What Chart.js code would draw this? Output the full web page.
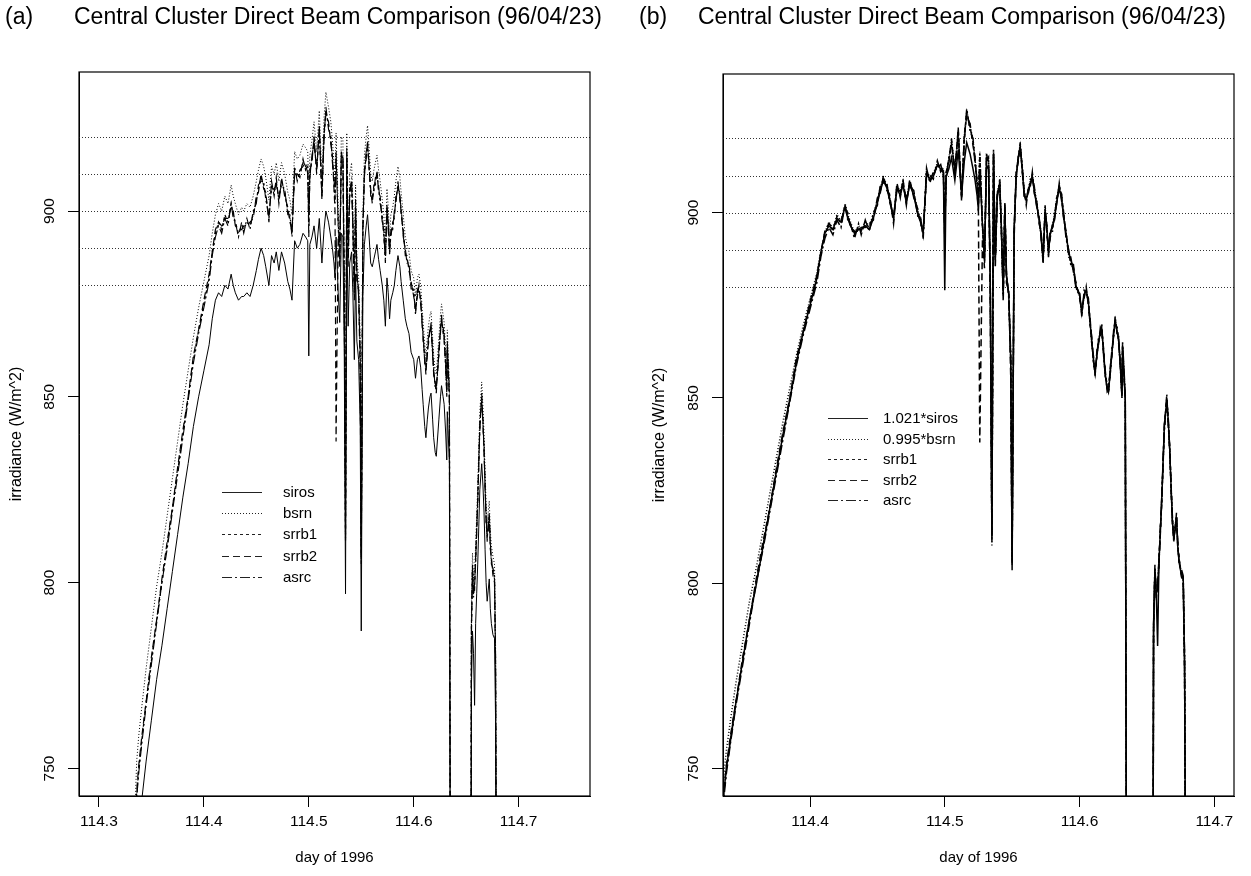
<!DOCTYPE html>
<html lang="en">
<head>
    <meta charset="UTF-8">
    <title>Central Cluster Direct Beam Comparison (96/04/23)</title>
    <script src="https://cdn.jsdelivr.net/npm/chart.js"></script>
    <style>
        body { margin: 0; background: #fff; }
        .wrap { position: relative; width: 1251px; height: 876px; font-family: 'Liberation Sans', Arial, sans-serif; }
        .wrap canvas { position: absolute; top: 0; }
        .ttl { position: absolute; top: 3px; font-size: 23px; line-height: 26px; color: #000; white-space: nowrap; }
    </style>
</head>
<body>
    <div class="wrap">
        <canvas id="panelA" width="625" height="876" style="left:0"></canvas>
        <canvas id="panelB" width="626" height="876" style="left:625px"></canvas>
        <div class="ttl" style="left:5px">(a)</div>
        <div class="ttl" style="left:74px">Central Cluster Direct Beam Comparison (96/04/23)</div>
        <div class="ttl" style="left:639px">(b)</div>
        <div class="ttl" style="left:698px">Central Cluster Direct Beam Comparison (96/04/23)</div>
    </div>

    <script>
        // time base (day of 1996), shared by all instruments
        const day = [
            114.330, 114.336, 114.338, 114.341, 114.345, 114.350, 114.355, 114.360, 114.365, 114.370,
            114.375, 114.380, 114.385, 114.390, 114.395, 114.400, 114.405, 114.408, 114.411, 114.414,
            114.417, 114.420, 114.423, 114.426, 114.428, 114.430, 114.433, 114.436, 114.438, 114.441,
            114.444, 114.447, 114.450, 114.452, 114.4545, 114.457, 114.459, 114.462, 114.4645, 114.467,
            114.469, 114.4715, 114.474, 114.477, 114.480, 114.482, 114.484, 114.4865, 114.489, 114.4915,
            114.4945, 114.497, 114.499, 114.500, 114.501, 114.503, 114.505, 114.5075, 114.510, 114.5125,
            114.5145, 114.5163, 114.5188, 114.521, 114.5225, 114.524, 114.525, 114.526, 114.528, 114.5295,
            114.531, 114.5325, 114.5338, 114.535, 114.5362, 114.5375, 114.539, 114.5408, 114.542, 114.5434,
            114.5446, 114.5458, 114.5475, 114.549, 114.550, 114.5515, 114.553, 114.5547, 114.556, 114.5575,
            114.559, 114.5605, 114.562, 114.5635, 114.565, 114.5665, 114.568, 114.570, 114.5715, 114.573,
            114.5745, 114.5757, 114.577, 114.5782, 114.580, 114.5815, 114.583, 114.585, 114.5868, 114.588,
            114.590, 114.592, 114.5935, 114.5955, 114.5975, 114.600, 114.6017, 114.6035, 114.605, 114.6066,
            114.608, 114.609, 114.6105, 114.6116, 114.613, 114.614, 114.6155, 114.6165, 114.618, 114.619,
            114.6205, 114.6215, 114.623, 114.624, 114.6255, 114.6265, 114.628, 114.629, 114.6305, 114.6315,
            114.632, 114.634, 114.635, 114.6545, 114.655, 114.656, 114.657, 114.658, 114.659, 114.660,
            114.661, 114.662, 114.663, 114.6648, 114.666, 114.667, 114.668, 114.669, 114.670, 114.671,
            114.672, 114.673, 114.674, 114.6755, 114.677, 114.678, 114.679, 114.690
        ];

        // irradiance (W/m^2) per instrument
        const siros = [
            686, 728, 735, 742, 752, 763, 774, 783, 793, 803,
            813, 823, 832, 842, 850, 857, 864, 871, 876, 878,
            877, 880, 879, 883, 880, 878, 876, 877, 877, 878,
            877, 880, 884, 887, 890, 888, 885, 880, 888, 886,
            889, 884, 889, 886, 881, 879, 876, 892, 890, 891,
            894, 893, 892, 861, 891, 893, 896, 890, 898, 886,
            895, 900, 897, 893, 890, 886, 882, 893, 878, 870,
            894, 893, 862, 797, 897, 869, 886, 889, 878, 860,
            883, 865, 860, 842, 787, 877, 891, 896, 899, 893,
            886, 885, 887, 889, 891, 887, 884, 880, 876, 869,
            882, 878, 871, 876, 878, 880, 884, 888, 885, 881,
            876, 871, 869, 867, 862, 860, 855, 860, 861, 858,
            852, 848, 842, 839, 844, 847, 850, 851, 844, 839,
            835, 834, 840, 844, 850, 853, 850, 848, 840, 833,
            846, 832, 686, 686, 772, 787, 781, 767, 789, 797,
            805, 815, 825, 832, 826, 819, 809, 800, 795, 798,
            801, 793, 789, 786, 785, 763, 686, 686
        ];
        const bsrn = [
            705, 752, 759, 767, 777, 788, 799, 808, 818, 828,
            838, 848, 857, 866, 874, 881, 888, 894, 899, 902,
            900, 904, 902, 907, 904, 902, 899, 901, 900, 902,
            901, 904, 908, 911, 914, 912, 909, 903, 912, 910,
            913, 908, 913, 910, 905, 903, 899, 916, 914, 915,
            918, 917, 916, 901, 915, 919, 924, 916, 927, 909,
            925, 932, 928, 924, 919, 913, 907, 921, 901, 892,
            920, 919, 885, 814, 921, 892, 910, 913, 901, 882,
            907, 887, 882, 865, 809, 899, 915, 920, 923, 917,
            910, 908, 911, 913, 915, 911, 908, 903, 899, 891,
            906, 901, 893, 899, 901, 904, 908, 912, 909, 905,
            899, 893, 891, 889, 884, 882, 877, 882, 883, 880,
            874, 870, 864, 861, 866, 869, 872, 873, 866, 861,
            857, 856, 862, 866, 872, 875, 872, 870, 862, 855,
            868, 854, 700, 700, 792, 808, 801, 803, 810, 818,
            826, 836, 846, 854, 847, 840, 830, 821, 816, 819,
            822, 814, 810, 807, 805, 783, 700, 700
        ];
        const srrb1 = [
            700, 743, 750, 758, 768, 779, 790, 800, 810, 820,
            830, 840, 850, 860, 868, 875, 882, 889, 894, 897,
            895, 899, 897, 902, 899, 897, 894, 896, 895, 897,
            896, 899, 903, 906, 909, 907, 904, 898, 907, 905,
            908, 903, 908, 905, 900, 898, 894, 911, 909, 910,
            913, 912, 911, 896, 910, 914, 919, 911, 922, 904,
            920, 927, 923, 919, 914, 908, 902, 916, 896, 887,
            915, 914, 880, 811, 916, 887, 905, 908, 896, 878,
            902, 883, 878, 860, 806, 895, 910, 915, 918, 912,
            905, 903, 906, 908, 910, 906, 903, 898, 894, 887,
            901, 896, 889, 894, 896, 899, 903, 907, 904, 900,
            894, 889, 887, 885, 880, 878, 873, 878, 879, 876,
            870, 866, 860, 857, 862, 865, 868, 869, 862, 857,
            853, 852, 858, 862, 868, 871, 868, 866, 858, 851,
            864, 850, 700, 700, 788, 804, 797, 799, 806, 814,
            822, 832, 842, 850, 843, 836, 826, 817, 812, 815,
            818, 810, 806, 803, 801, 779, 700, 700
        ];
        const srrb2 = [
            700, 744, 751, 759, 768, 780, 790, 801, 811, 820,
            831, 841, 850, 861, 868, 876, 883, 889, 895, 897,
            896, 898, 898, 901, 900, 896, 895, 895, 896, 896,
            897, 898, 904, 905, 910, 906, 905, 897, 908, 904,
            909, 902, 909, 904, 901, 897, 895, 910, 910, 909,
            914, 911, 912, 893, 911, 913, 920, 910, 923, 903,
            921, 926, 924, 918, 915, 906, 900, 838, 893, 885,
            916, 913, 876, 812, 915, 885, 906, 907, 897, 876,
            903, 881, 879, 855, 805, 893, 911, 914, 919, 911,
            906, 902, 907, 907, 911, 905, 904, 897, 895, 886,
            902, 895, 890, 893, 897, 898, 904, 906, 905, 899,
            895, 888, 888, 884, 881, 877, 874, 877, 880, 875,
            871, 865, 861, 856, 863, 864, 869, 868, 863, 856,
            854, 851, 859, 861, 869, 870, 869, 865, 859, 850,
            863, 849, 700, 700, 786, 803, 798, 798, 807, 813,
            823, 831, 843, 849, 844, 835, 827, 816, 813, 814,
            819, 809, 807, 802, 800, 776, 700, 700
        ];
        const asrc = [
            700, 742, 749, 757, 767, 778, 789, 800, 809, 819,
            829, 839, 849, 859, 867, 874, 881, 888, 893, 896,
            894, 898, 896, 902, 898, 897, 893, 897, 894, 898,
            895, 900, 902, 907, 908, 908, 903, 899, 906, 906,
            907, 904, 907, 906, 899, 899, 893, 912, 908, 911,
            912, 913, 910, 898, 909, 915, 918, 912, 921, 905,
            919, 928, 922, 920, 913, 909, 903, 915, 897, 888,
            914, 915, 882, 813, 917, 888, 904, 909, 895, 879,
            901, 884, 877, 862, 807, 896, 909, 916, 917, 913,
            904, 904, 905, 909, 909, 907, 902, 899, 893, 888,
            900, 897, 888, 895, 895, 900, 902, 908, 903, 901,
            893, 890, 886, 886, 879, 879, 872, 879, 878, 877,
            869, 867, 859, 858, 861, 866, 867, 870, 861, 858,
            852, 853, 857, 863, 867, 872, 867, 867, 857, 852,
            865, 851, 700, 700, 789, 805, 796, 800, 805, 815,
            821, 833, 841, 851, 842, 837, 825, 818, 811, 816,
            817, 811, 805, 804, 802, 781, 700, 700
        ];

        // calibration factors used in panel (b)
        const sirosFactor = 1.021;
        const bsrnFactor = 0.995;

        const xTicks = [114.3, 114.4, 114.5, 114.6, 114.7];
        const yTicks = [750, 800, 850, 900];
        const refLines = [880, 890, 900, 910, 920];

        const FONT = "'Liberation Sans', Arial, Helvetica, sans-serif";
        Chart.defaults.font.family = FONT;
        Chart.defaults.color = '#000';

        // line styles as in the original plot
        const dashes = {
            siros: [],
            bsrn: [1, 2],
            srrb1: [3, 3],
            srrb2: [7, 4],
            asrc: [10, 3, 2, 3]
        };

        function toPoints(values) {
            return day.map((d, i) => ({ x: d, y: values[i] }));
        }

        function dataset(label, values, dash, width) {
            return {
                label: label,
                data: toPoints(values),
                borderColor: '#000',
                borderWidth: width,
                borderDash: dash,
                pointRadius: 0,
                fill: false
            };
        }

        // dotted reference lines, full box, R-style y labels and the legend
        const decor = {
            id: 'decor',
            beforeDatasetsDraw(chart) {
                const { ctx, chartArea: a, scales: { y } } = chart;
                ctx.save();
                ctx.strokeStyle = '#333';
                ctx.lineWidth = 1;
                ctx.setLineDash([1, 2]);
                refLines.forEach(v => {
                    const py = Math.round(y.getPixelForValue(v)) + 0.5;
                    ctx.beginPath();
                    ctx.moveTo(a.left, py);
                    ctx.lineTo(a.right, py);
                    ctx.stroke();
                });
                ctx.restore();
            },
            afterDraw(chart, args, opts) {
                const { ctx, chartArea: a, scales: { y } } = chart;
                ctx.save();
                ctx.strokeStyle = '#000';
                ctx.lineWidth = 1.2;
                ctx.strokeRect(a.left, a.top, a.right - a.left, a.bottom - a.top);

                ctx.fillStyle = '#000';
                ctx.font = '15.5px ' + FONT;
                ctx.textAlign = 'center';
                ctx.textBaseline = 'middle';
                y.ticks.forEach(t => {
                    ctx.save();
                    ctx.translate(a.left - 29, y.getPixelForValue(t.value));
                    ctx.rotate(-Math.PI / 2);
                    ctx.fillText(String(t.value), 0, 0);
                    ctx.restore();
                });

                const lg = opts.legend;
                ctx.font = '15px ' + FONT;
                ctx.textAlign = 'left';
                chart.data.datasets.forEach((ds, i) => {
                    const py = Math.round(lg.y + i * lg.step) + 0.5;
                    ctx.strokeStyle = '#222';
                    ctx.lineWidth = 1;
                    ctx.setLineDash(ds.borderDash);
                    ctx.beginPath();
                    ctx.moveTo(lg.x, py);
                    ctx.lineTo(lg.x + 40, py);
                    ctx.stroke();
                    ctx.setLineDash([]);
                    ctx.fillText(ds.label, lg.textX, py);
                });
                ctx.restore();
            }
        };

        function makePanel(id, datasets, xMin, xMax, padding, yWidth, yTitlePad, legend) {
            return new Chart(document.getElementById(id), {
                type: 'line',
                data: { datasets: datasets },
                options: {
                    responsive: false,
                    animation: false,
                    parsing: false,
                    normalized: true,
                    layout: { padding: padding },
                    elements: { line: { tension: 0 } },
                    plugins: {
                        legend: { display: false },
                        tooltip: { enabled: false },
                        decor: { legend: legend }
                    },
                    scales: {
                        x: {
                            type: 'linear',
                            min: xMin,
                            max: xMax,
                            afterBuildTicks: s => {
                                s.ticks = xTicks.filter(v => v >= s.min && v <= s.max).map(v => ({ value: v }));
                            },
                            afterFit: s => { s.height = 80; },
                            grid: { drawOnChartArea: false, drawTicks: true, tickLength: 11, color: '#000' },
                            border: { display: true, color: '#000' },
                            ticks: {
                                color: '#000',
                                font: { size: 15.5 },
                                padding: 5,
                                maxRotation: 0,
                                autoSkip: false,
                                callback: v => v.toFixed(1)
                            },
                            title: {
                                display: true,
                                text: 'day of 1996',
                                color: '#000',
                                font: { size: 15 },
                                padding: { top: 0, bottom: 9 }
                            }
                        },
                        y: {
                            type: 'linear',
                            min: 742.6,
                            max: 937.4,
                            afterBuildTicks: s => { s.ticks = yTicks.map(v => ({ value: v })); },
                            afterFit: s => { s.width = yWidth; },
                            grid: { drawOnChartArea: false, drawTicks: true, tickLength: 11, color: '#000' },
                            border: { display: true, color: '#000' },
                            ticks: { display: false },
                            title: {
                                display: true,
                                text: 'irradiance (W/m^2)',
                                color: '#000',
                                font: { size: 16 },
                                padding: { top: yTitlePad, bottom: 0 }
                            }
                        }
                    }
                },
                plugins: [decor]
            });
        }

        // (a) raw instruments
        makePanel('panelA', [
            dataset('siros', siros, dashes.siros, 1),
            dataset('bsrn', bsrn, dashes.bsrn, 1),
            dataset('srrb1', srrb1, dashes.srrb1, 1.2),
            dataset('srrb2', srrb2, dashes.srrb2, 1.2),
            dataset('asrc', asrc, dashes.asrc, 1.1)
        ], 114.281, 114.768, { top: 72, right: 35, left: 0, bottom: 0 }, 79, 7.4,
            { x: 222, textX: 283, y: 492, step: 21.2 });

        // (b) siros and bsrn rescaled by their factors
        makePanel('panelB', [
            dataset(sirosFactor + '*siros', siros.map(v => v * sirosFactor), dashes.siros, 1.5),
            dataset(bsrnFactor + '*bsrn', bsrn.map(v => v * bsrnFactor), dashes.bsrn, 1.5),
            dataset('srrb1', srrb1, dashes.srrb1, 1.5),
            dataset('srrb2', srrb2, dashes.srrb2, 1.5),
            dataset('asrc', asrc, dashes.asrc, 1.5)
        ], 114.3354, 114.7147, { top: 74, right: 17, left: 0, bottom: 0 }, 98, 25.4,
            { x: 203, textX: 258, y: 418, step: 20.5 });
    </script>
</body>
</html>
